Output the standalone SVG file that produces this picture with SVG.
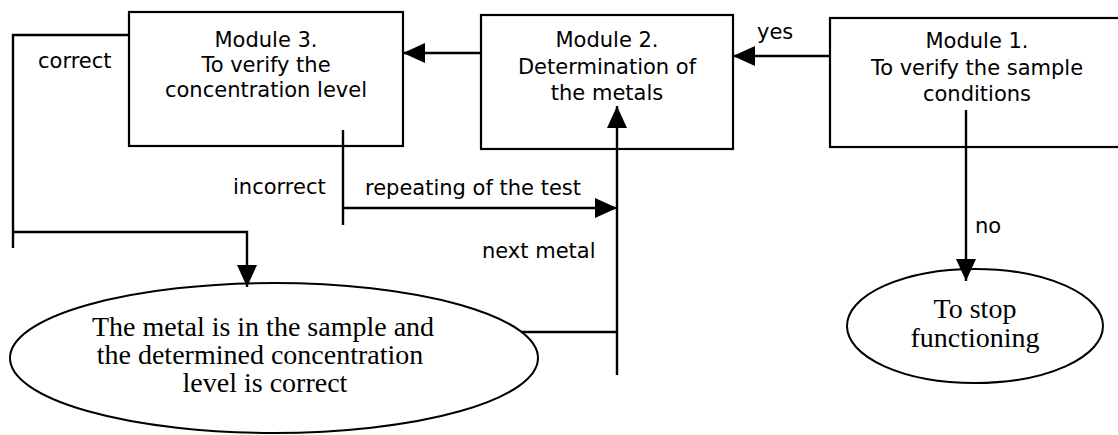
<svg xmlns="http://www.w3.org/2000/svg" width="1118" height="435" viewBox="0 0 1118 435">
<style>
.box{fill:#fff;stroke:#000;stroke-width:2.2}
.ell{fill:#fff;stroke:#000;stroke-width:2}
.ln{fill:none;stroke:#000;stroke-width:2.4}
.sans{font-family:"DejaVu Sans",Verdana,sans-serif;font-size:21px;fill:#000}
.serif{font-family:"Liberation Serif","Times New Roman",serif;font-size:28px;fill:#000}
</style>
<defs>
<marker id="ah" viewBox="0 0 22 20" refX="22" refY="10" markerWidth="22" markerHeight="20" markerUnits="userSpaceOnUse" orient="auto">
<path d="M0,0 L22,10 L0,20 z" fill="#000"/>
</marker>
</defs>
<g id="module3">
<rect class="box" x="129" y="12" width="274" height="134"/>
<text class="sans" text-anchor="middle" x="266" y="47">Module 3.</text>
<text class="sans" text-anchor="middle" x="266" y="72">To verify the</text>
<text class="sans" text-anchor="middle" x="266" y="97">concentration level</text>
</g>
<g id="module2">
<rect class="box" x="481" y="15" width="252" height="134"/>
<text class="sans" text-anchor="middle" x="607" y="47">Module 2.</text>
<text class="sans" text-anchor="middle" x="607" y="74">Determination of</text>
<text class="sans" text-anchor="middle" x="607" y="100">the metals</text>
</g>
<g id="module1">
<rect class="box" x="830" y="18" width="300" height="129"/>
<text class="sans" text-anchor="middle" x="977" y="48">Module 1.</text>
<text class="sans" text-anchor="middle" x="977" y="75">To verify the sample</text>
<text class="sans" text-anchor="middle" x="977" y="101">conditions</text>
</g>
<g id="result">
<ellipse class="ell" cx="274" cy="358" rx="264" ry="75"/>
<text class="serif" text-anchor="middle" x="263" y="336">The metal is in the sample and</text>
<text class="serif" text-anchor="middle" x="260" y="364">the determined concentration</text>
<text class="serif" text-anchor="middle" x="265" y="392">level is correct</text>
</g>
<g id="stop">
<ellipse class="ell" cx="975" cy="326" rx="128" ry="57"/>
<text class="serif" text-anchor="middle" x="975" y="318">To stop</text>
<text class="serif" text-anchor="middle" x="975" y="347">functioning</text>
</g>
<g id="connectors">
<line class="ln" x1="481" y1="53" x2="403" y2="53" marker-end="url(#ah)"/>
<line class="ln" x1="830" y1="56" x2="733" y2="56" marker-end="url(#ah)"/>
<line class="ln" x1="966" y1="110" x2="966" y2="281" marker-end="url(#ah)"/>
<polyline class="ln" points="129,35 13,35 13,248"/>
<polyline class="ln" points="13,232 247,232 247,287" marker-end="url(#ah)"/>
<line class="ln" x1="343" y1="130" x2="343" y2="225"/>
<line class="ln" x1="343" y1="208" x2="617" y2="208" marker-end="url(#ah)"/>
<line class="ln" x1="617" y1="375" x2="617" y2="106" marker-end="url(#ah)"/>
<line class="ln" x1="522" y1="332" x2="617" y2="332"/>
<text class="sans" x="757" y="39">yes</text>
<text class="sans" x="975" y="233">no</text>
<text class="sans" x="38" y="68">correct</text>
<text class="sans" x="233" y="194">incorrect</text>
<text class="sans" x="365" y="195">repeating of the test</text>
<text class="sans" x="482" y="258">next metal</text>
</g>
</svg>
